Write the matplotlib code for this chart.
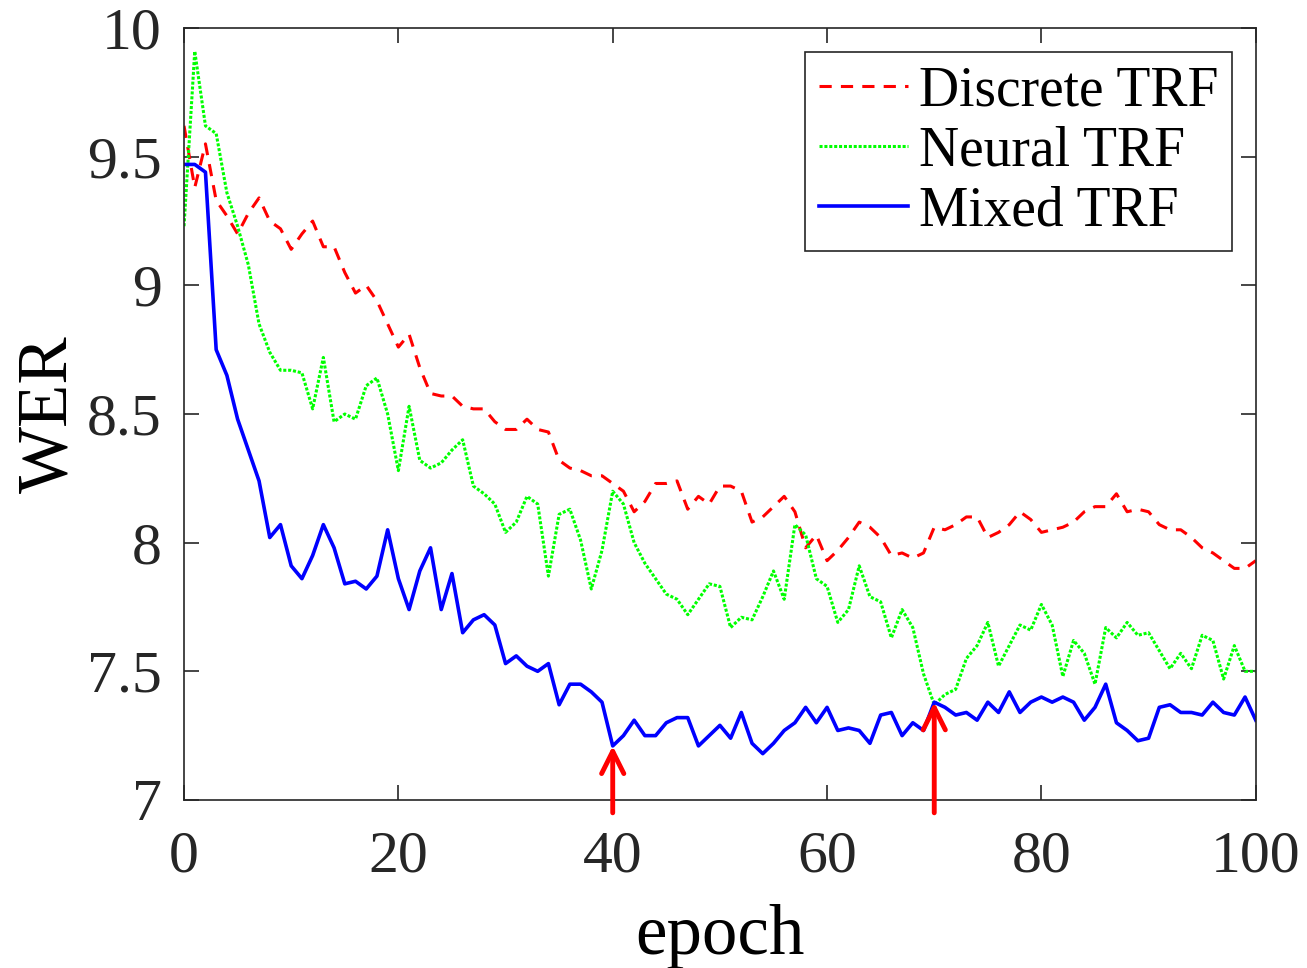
import numpy as np
import matplotlib
matplotlib.use("Agg")
import matplotlib.pyplot as plt

# WER per epoch
epochs = np.arange(0, 101)

discrete_trf = [
    9.62, 9.38, 9.55, 9.33, 9.27, 9.20, 9.28, 9.34, 9.25, 9.22,
    9.14, 9.20, 9.25, 9.15, 9.15, 9.05, 8.97, 9.00, 8.94, 8.85,
    8.76, 8.81, 8.68, 8.58, 8.57, 8.57, 8.53, 8.52, 8.52, 8.47,
    8.44, 8.44, 8.48, 8.44, 8.43, 8.32, 8.29, 8.28, 8.26, 8.26,
    8.23, 8.20, 8.12, 8.16, 8.23, 8.23, 8.24, 8.13, 8.18, 8.15,
    8.22, 8.22, 8.20, 8.08, 8.10, 8.14, 8.18, 8.12, 7.98, 8.03,
    7.93, 7.97, 8.02, 8.08, 8.06, 8.02, 7.95, 7.96, 7.94, 7.96,
    8.06, 8.05, 8.07, 8.10, 8.10, 8.02, 8.04, 8.07, 8.12, 8.09,
    8.04, 8.05, 8.06, 8.08, 8.12, 8.14, 8.14, 8.19, 8.12, 8.13,
    8.12, 8.07, 8.05, 8.05, 8.02, 7.98, 7.96, 7.93, 7.90, 7.90,
    7.93,
]

neural_trf = [
    9.23, 9.91, 9.62, 9.59, 9.36, 9.23, 9.08, 8.85, 8.74, 8.67,
    8.67, 8.66, 8.52, 8.72, 8.47, 8.50, 8.48, 8.61, 8.64, 8.50,
    8.28, 8.53, 8.32, 8.29, 8.31, 8.36, 8.40, 8.22, 8.19, 8.15,
    8.04, 8.08, 8.18, 8.15, 7.87, 8.11, 8.13, 8.01, 7.82, 7.97,
    8.20, 8.15, 8.00, 7.92, 7.86, 7.80, 7.78, 7.72, 7.78, 7.84,
    7.83, 7.67, 7.71, 7.70, 7.79, 7.89, 7.78, 8.07, 8.03, 7.86,
    7.83, 7.69, 7.74, 7.91, 7.79, 7.77, 7.63, 7.74, 7.67, 7.49,
    7.37, 7.41, 7.43, 7.55, 7.60, 7.69, 7.52, 7.60, 7.68, 7.66,
    7.76, 7.68, 7.48, 7.62, 7.57, 7.45, 7.67, 7.63, 7.69, 7.64,
    7.65, 7.58, 7.51, 7.57, 7.51, 7.64, 7.62, 7.47, 7.60, 7.50,
    7.50,
]

mixed_trf = [
    9.47, 9.47, 9.44, 8.75, 8.65, 8.48, 8.36, 8.24, 8.02, 8.07,
    7.91, 7.86, 7.95, 8.07, 7.98, 7.84, 7.85, 7.82, 7.87, 8.05,
    7.86, 7.74, 7.89, 7.98, 7.74, 7.88, 7.65, 7.70, 7.72, 7.68,
    7.53, 7.56, 7.52, 7.50, 7.53, 7.37, 7.45, 7.45, 7.42, 7.38,
    7.21, 7.25, 7.31, 7.25, 7.25, 7.30, 7.32, 7.32, 7.21, 7.25,
    7.29, 7.24, 7.34, 7.22, 7.18, 7.22, 7.27, 7.30, 7.36, 7.30,
    7.36, 7.27, 7.28, 7.27, 7.22, 7.33, 7.34, 7.25, 7.30, 7.27,
    7.38, 7.36, 7.33, 7.34, 7.31, 7.38, 7.34, 7.42, 7.34, 7.38,
    7.40, 7.38, 7.40, 7.38, 7.31, 7.36, 7.45, 7.30, 7.27, 7.23,
    7.24, 7.36, 7.37, 7.34, 7.34, 7.33, 7.38, 7.34, 7.33, 7.40,
    7.31,
]

# epochs marked with red arrows
arrow_epochs = [40, 70]

# ---------------------------------------------------------------------------
# Plot
# ---------------------------------------------------------------------------

plt.rcParams["font.family"] = ["Liberation Serif", "DejaVu Serif"]

fig = plt.figure(figsize=(13.07, 9.68), dpi=100)
ax = fig.add_axes([0.1408, 0.1736, 0.8200, 0.7974])

ax.plot(epochs, discrete_trf, color="#ff0000", linestyle=(0, (4, 3)),
        linewidth=2.2, label="Discrete TRF")
ax.plot(epochs, neural_trf, color="#00ff00", linestyle=(0, (1, 0.6)),
        linewidth=2.2, label="Neural TRF")
ax.plot(epochs, mixed_trf, color="#0000ff", linestyle="-",
        linewidth=2.6, label="Mixed TRF")

for ep in arrow_epochs:
    ax.annotate(
        "",
        xy=(ep, mixed_trf[ep]),
        xytext=(ep, 6.95),
        arrowprops=dict(arrowstyle="->", color="#ff0000", lw=3.5,
                        mutation_scale=40, shrinkA=0, shrinkB=0),
        annotation_clip=False,
    )

ax.set_xlim(0, 100)
ax.set_ylim(7, 10)
ax.set_xticks([0, 20, 40, 60, 80, 100])
ax.set_yticks([7, 7.5, 8, 8.5, 9, 9.5, 10])
ax.set_yticklabels(["7", "7.5", "8", "8.5", "9", "9.5", "10"])

ax.tick_params(direction="in", length=11, width=1.2, colors="#262626",
               labelsize=43, top=True, right=True, pad=16)
ax.tick_params(axis="x", pad=22)
for sp in ax.spines.values():
    sp.set_linewidth(1.2)
    sp.set_color("#262626")

ax.set_xlabel("epoch", fontsize=51, labelpad=14)
ax.set_ylabel("WER", fontsize=51, labelpad=4)

leg = ax.legend(loc="upper right", fontsize=40, handlelength=1.6,
                handletextpad=0.2, labelspacing=0.14, borderpad=0.25,
                borderaxespad=0, fancybox=False, framealpha=1,
                edgecolor="#262626", bbox_to_anchor=(0.978, 0.969))
leg.get_frame().set_linewidth(1.2)

plt.savefig("out.png", dpi=100)
